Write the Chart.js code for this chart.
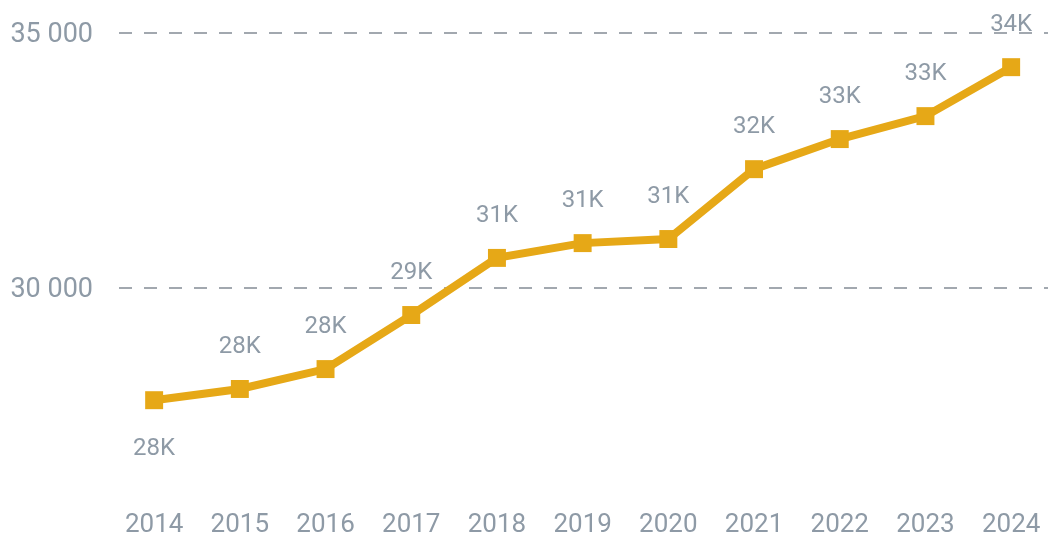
<!DOCTYPE html>
<html>
<head>
<meta charset="utf-8">
<script src="https://cdn.jsdelivr.net/npm/chart.js@4.4.1/dist/chart.umd.min.js"></script>
<style>
  html, body { margin: 0; padding: 0; background: #ffffff; }
  #wrap { width: 1048px; height: 535px; position: relative; }
</style>
</head>
<body>
<div id="wrap"><canvas id="c"></canvas></div>
<script>
const years = [2014, 2015, 2016, 2017, 2018, 2019, 2020, 2021, 2022, 2023, 2024];
const values = [27800, 28020, 28410, 29470, 30590, 30880, 30960, 32330, 32920, 33370, 34330];
const yTicks = [30000, 35000];

const textColor = '#8e9aa6';
const lineColor = '#e6a817';
const gridColor = '#a2a8af';
const FONT = 'Roboto, "DejaVu Sans", sans-serif';

function fmtK(v) { return Math.round(v / 1000) + 'K'; }
function fmtSpace(v) { return String(v).replace(/\B(?=(\d{3})+(?!\d))/g, ' '); }

function noPad(s) { s.paddingLeft = 0; s.paddingRight = 0; s.paddingTop = 0; s.paddingBottom = 0; }

const labelPlugin = {
  id: 'pointLabels',
  afterDatasetsDraw(chart) {
    const ctx = chart.ctx;
    const meta = chart.getDatasetMeta(0);
    ctx.save();
    ctx.font = '24px ' + FONT;
    ctx.fillStyle = textColor;
    ctx.textAlign = 'center';
    ctx.textBaseline = 'middle';
    meta.data.forEach((pt, i) => {
      const below = i === 0;
      const y = below ? pt.y + 49 : pt.y - 42;
      ctx.fillText(fmtK(values[i]), pt.x, y);
    });
    ctx.restore();
  }
};

new Chart(document.getElementById('c'), {
  type: 'line',
  data: {
    datasets: [{
      data: years.map((y, i) => ({ x: y, y: values[i] })),
      borderColor: lineColor,
      backgroundColor: lineColor,
      borderWidth: 8,
      pointStyle: 'rect',
      pointRadius: 12.7,
      pointHoverRadius: 12.7,
      pointBorderWidth: 0,
      tension: 0,
      clip: false
    }]
  },
  options: {
    responsive: true,
    maintainAspectRatio: false,
    animation: false,
    layout: { padding: 0, autoPadding: false },
    plugins: { legend: { display: false }, tooltip: { enabled: false } },
    scales: {
      x: {
        type: 'linear',
        min: 2013.59,
        max: 2024.43,
        afterBuildTicks: s => { s.ticks = years.map(v => ({ value: v })); },
        afterFit: s => { s.height = 40; noPad(s); },
        grid: { display: false, drawTicks: false },
        border: { display: false },
        ticks: {
          autoSkip: false,
          maxRotation: 0,
          padding: 15,
          color: textColor,
          font: { family: FONT, size: 26 },
          callback: v => String(v)
        }
      },
      y: {
        min: 25941,
        max: 35647,
        afterBuildTicks: s => { s.ticks = yTicks.map(v => ({ value: v })); },
        afterFit: s => { s.width = 119; noPad(s); },
        grid: { color: gridColor, lineWidth: 2, drawTicks: false },
        border: { display: false, dash: [13, 12] },
        ticks: {
          padding: 26,
          labelOffset: 2,
          color: textColor,
          font: { family: FONT, size: 27 },
          callback: v => fmtSpace(v)
        }
      }
    }
  },
  plugins: [labelPlugin]
});
</script>
</body>
</html>
